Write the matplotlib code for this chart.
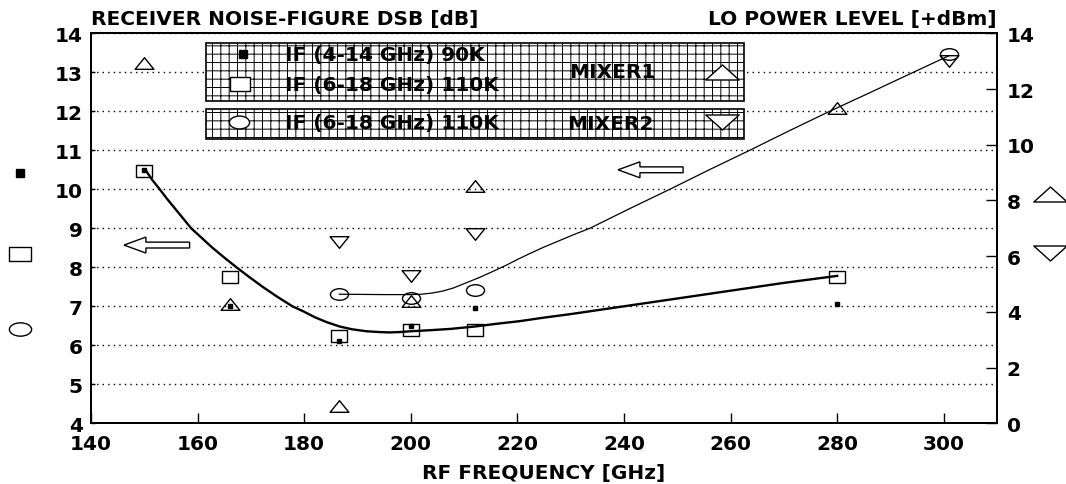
import numpy as np
import matplotlib
matplotlib.use("Agg")
from matplotlib import pyplot as plt
from matplotlib.path import Path
from matplotlib.lines import Line2D
import matplotlib.patches as mpatches

# ---- data ----
freq_90k = [150, 166, 186.5, 200, 212, 280]
nf_90k = [10.5, 7.0, 6.1, 6.5, 6.96, 7.05]

freq_110k = [150, 166, 186.5, 200, 212, 280]
nf_110k = [10.48, 7.76, 6.24, 6.39, 6.39, 7.76]

freq_mix2 = [186.5, 200, 212, 301]
nf_mix2 = [7.31, 7.22, 7.42, 13.47]

freq_lo1 = [150, 166, 186.5, 200, 212, 280]
lo_mix1 = [12.95, 4.28, 0.62, 4.39, 8.53, 11.31]

freq_lo2 = [186.5, 200, 212, 301]
lo_mix2 = [6.52, 5.3, 6.8, 13.02]

# fitted curves as drawn in the original
curve1_f = [150.2, 151.5, 152.9, 154.3, 155.8, 157.3, 158.8, 160.8, 162.8, 165, 167.3,
            169.7, 172.2, 175, 177.8, 180, 182, 184.3, 186.7, 189, 191.7, 194, 196,
            198, 200, 204, 207.4, 211.9, 216, 220.5, 225, 230, 235, 241, 250, 261, 270, 280]
curve1_nf = [10.5, 10.24, 10.0, 9.75, 9.5, 9.25, 9.0, 8.75, 8.5, 8.25, 8.0,
             7.75, 7.5, 7.24, 7.0, 6.86, 6.72, 6.59, 6.48, 6.41, 6.36, 6.34, 6.33,
             6.34, 6.36, 6.39, 6.42, 6.48, 6.55, 6.62, 6.71, 6.8, 6.9, 7.02, 7.2, 7.42, 7.6, 7.78]

curve2_f = [186.6, 195, 200, 202, 204, 206, 208, 210, 212.9, 215.5, 218, 220, 222.3,
            225, 228, 230.8, 233.6, 241, 248.6, 256, 263.6, 271, 278.6, 286.5, 294.3, 300.9]
curve2_nf = [7.31, 7.30, 7.30, 7.31, 7.34, 7.39, 7.47, 7.58, 7.74, 7.9, 8.06, 8.2, 8.35,
             8.52, 8.69, 8.85, 9.0, 9.5, 10.0, 10.5, 11.0, 11.5, 12.0, 12.5, 13.0, 13.42]

xticks = list(range(140, 301, 20))
left_ticks = list(range(4, 15))
right_ticks = list(range(0, 15, 2))


def rect_marker(r):
    return Path([(-1, -r), (1, -r), (1, r), (-1, r), (-1, -r)],
                [Path.MOVETO, Path.LINETO, Path.LINETO, Path.LINETO, Path.CLOSEPOLY])

def ellipse_marker(r):
    c = Path.unit_circle()
    return Path(c.vertices * np.array([1, r]), c.codes)

def tri_marker(r, up=True):
    s = 1 if up else -1
    return Path([(-1, -s * r), (1, -s * r), (0, s * r), (-1, -s * r)],
                [Path.MOVETO, Path.LINETO, Path.LINETO, Path.CLOSEPOLY])


plt.rcParams['font.family'] = ['DejaVu Sans']
plt.rcParams['font.weight'] = 'bold'
plt.rcParams['hatch.linewidth'] = 0.7
FS = 14.5

W, H = 1066, 485
def fx(px):
    return px / W
def fy(py):
    return 1 - py / H

fig = plt.figure(figsize=(W / 100, H / 100), dpi=100)
ax = fig.add_axes([fx(91), fy(424.3), (997 - 91) / W, (424.3 - 34.3) / H])
ax2 = ax.twinx()

ax.set_xlim(140, 310)
ax.set_ylim(4, 14)
ax2.set_ylim(0, 14)

ax.set_xticks(xticks)
ax.set_yticks(left_ticks)
ax2.set_yticks(right_ticks)
ax.tick_params(axis='x', direction='in', length=7, width=1, pad=8, labelsize=FS)
ax.tick_params(axis='y', direction='in', length=3, width=1, pad=6, labelsize=FS)
ax2.tick_params(axis='y', direction='in', length=8, width=1, pad=7, labelsize=FS)
for a in (ax, ax2):
    for sp in a.spines.values():
        sp.set_linewidth(1.4)
ax.yaxis.grid(True, linestyle=(0, (1, 3)), color='black', linewidth=1)

# curves
ax.plot(curve1_f, curve1_nf, color='black', lw=1.7, zorder=2)
ax.plot(curve2_f, curve2_nf, color='black', lw=0.9, zorder=2)

# markers
sq = rect_marker(0.73)
el = ellipse_marker(0.64)
tu = tri_marker(0.62, True)
td = tri_marker(0.62, False)
ax.plot(freq_110k, nf_110k, ls='none', marker=sq, ms=11, mfc='none', mec='black', mew=1, zorder=3)
ax.plot(freq_90k, nf_90k, ls='none', marker='s', ms=3.3, mfc='black', mec='black', zorder=3)
ax.plot(freq_mix2, nf_mix2, ls='none', marker=el, ms=13, mfc='none', mec='black', mew=1, zorder=3)
ax2.plot(freq_lo1, lo_mix1, ls='none', marker=tu, ms=13.5, mfc='none', mec='black', mew=1, zorder=3)
ax2.plot(freq_lo2, lo_mix2, ls='none', marker=td, ms=13.5, mfc='none', mec='black', mew=1, zorder=3)

# hollow arrows pointing at the left axis
for tail, tip, yy in [(158.5, 146.2, 8.57), (251.1, 238.9, 10.5)]:
    ax.add_patch(mpatches.FancyArrow(tail, yy, tip - tail, 0, width=0.15, head_width=0.41,
                                     head_length=4.1, length_includes_head=True,
                                     fill=False, ec='black', lw=1))

# titles
fig.text(fx(91), fy(19), 'RECEIVER NOISE-FIGURE DSB [dB]', ha='left', va='center', fontsize=FS)
fig.text(fx(997), fy(19), 'LO POWER LEVEL [+dBm]', ha='right', va='center', fontsize=FS)
fig.text(fx(544), fy(474), 'RF FREQUENCY [GHz]', ha='center', va='center', fontsize=FS)

# legend boxes with grid pattern
fig.add_artist(mpatches.Rectangle((fx(206), fy(102)), 538 / W, 58 / H, transform=fig.transFigure,
                                  facecolor='white', edgecolor='black', hatch='++', lw=1.2, zorder=5))
fig.add_artist(mpatches.Rectangle((fx(206), fy(140)), 538 / W, 30 / H, transform=fig.transFigure,
                                  facecolor='white', edgecolor='black', hatch='++', lw=1.2, zorder=5))

def fig_marker(px, py, marker, ms, filled=False):
    fig.add_artist(Line2D([fx(px)], [fy(py)], transform=fig.transFigure, ls='none', marker=marker,
                          ms=ms, mfc='black' if filled else 'white', mec='black', mew=1, zorder=6))

wtu = tri_marker(0.45, True)
wtd = tri_marker(0.45, False)
fig_marker(243, 55, 's', 5.5, True)
fig_marker(240, 85, rect_marker(0.68), 14.5)
fig_marker(239, 123, ellipse_marker(0.64), 14.5)
fig_marker(722, 73, wtu, 24)
fig_marker(722, 123, wtd, 24)
fig.text(fx(285), fy(56), 'IF (4-14 GHz) 90K', ha='left', va='center', fontsize=FS, zorder=7)
fig.text(fx(285), fy(86), 'IF (6-18 GHz) 110K', ha='left', va='center', fontsize=FS, zorder=7)
fig.text(fx(569), fy(73), 'MIXER1', ha='left', va='center', fontsize=FS, zorder=7)
fig.text(fx(285), fy(124), 'IF (6-18 GHz) 110K', ha='left', va='center', fontsize=FS, zorder=7)
fig.text(fx(567), fy(124), 'MIXER2', ha='left', va='center', fontsize=FS, zorder=7)

# key symbols outside the axes
fig_marker(20, 174, 's', 6, True)
fig_marker(20, 255, rect_marker(0.62), 15.5)
fig_marker(20, 330, ellipse_marker(0.6), 16)
fig_marker(1050, 195, wtu, 24)
fig_marker(1050, 254, wtd, 24)

fig.savefig('out.png', dpi=100)
